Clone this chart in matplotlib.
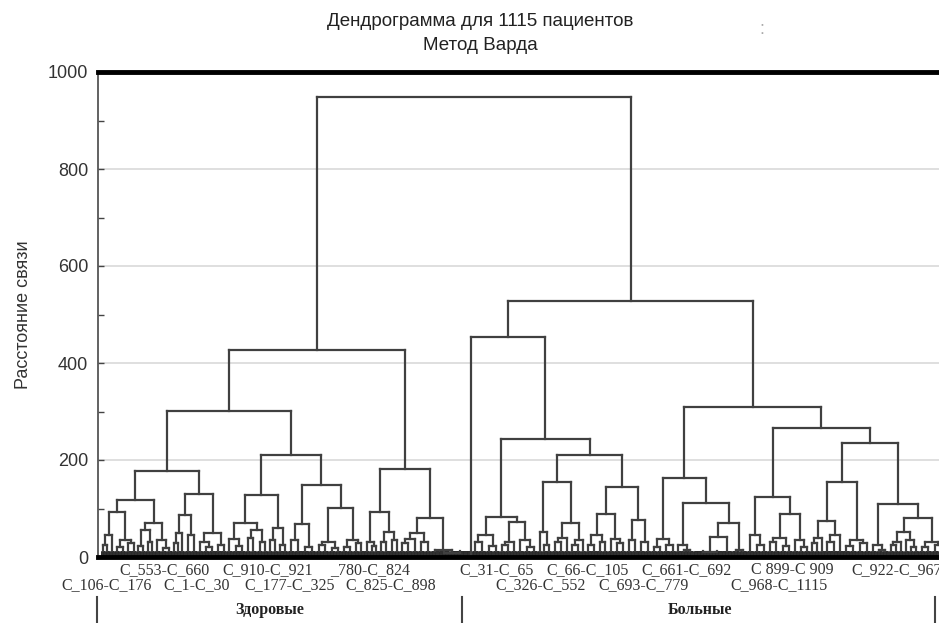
import matplotlib
matplotlib.use("Agg")
import matplotlib.pyplot as plt
from matplotlib.collections import LineCollection
from matplotlib.lines import Line2D
import numpy as np

# small groups of patients (left to right) inside each visible cluster,
# and the linkage distance between neighbouring small groups of that cluster
cluster_sizes = [
    [6, 6, 6], [7, 8, 7, 7], [6, 6, 6, 6], [8, 8, 8], [5, 5, 6], [8, 9],
    [7, 8, 8, 8, 7], [8, 9, 8], [7, 8, 8, 7], [6, 7, 7, 6], [9, 10, 9, 9],
    [8, 9, 9, 8], [8, 7, 8, 7], [7, 6, 7], [6, 7, 7, 6], [8, 9, 8, 9, 8],
    [11, 14, 28],
    [1], [9, 10, 9, 9], [7, 8, 8], [9, 9, 9], [6, 7, 6], [8, 8, 8], [7, 7, 7],
    [7, 8, 7, 7], [8, 8, 8], [8, 8, 9, 8], [8, 8, 9, 8], [7, 8, 8],
    [25, 13, 13], [10, 10], [9, 9, 9], [8, 8, 9, 8], [8, 7, 8], [6, 7, 6],
    [8, 9, 8], [9, 9, 9, 9], [8, 8, 8], [7, 6, 7], [7, 6, 7], [8, 9, 9, 8],
]
cluster_heights = [
    [25, 45], [20, 35, 28], [22, 56, 30], [35, 18], [28, 49], [45],
    [30, 20, 49, 25], [38, 22], [40, 56, 30], [35, 60, 25], [35, 68, 20],
    [25, 31, 18], [20, 35, 28], [31, 22], [30, 52, 35], [28, 38, 49, 30],
    [14, 8],
    [], [30, 45, 22], [25, 30], [35, 20], [52, 25], [30, 40], [25, 35],
    [25, 45, 30], [38, 28], [35, 76, 30], [20, 37, 25], [25, 15],
    [10, 41], [14], [45, 25], [30, 40, 22], [35, 20], [28, 40],
    [30, 45], [22, 35, 28], [24, 15], [25, 30], [35, 20], [20, 30, 25],
]
# linkage distance between neighbouring clusters
between_heights = [
    93, 117, 70, 177, 87, 130, 301, 70, 128, 210, 148, 101, 427, 93, 181, 80,
    948,
    454, 83, 72, 243, 155, 70, 210, 89, 144, 528, 163, 111, 70, 309, 124, 89,
    266, 74, 155, 235, 109, 52, 80,
]

range_labels_top = ["C_553-C_660", "C_910-C_921", "_780-C_824", "C_31-C_65",
                    "C_66-C_105", "C_661-C_692", "C 899-C 909", "C_922-C_967"]
range_labels_bottom = ["C_106-C_176", "C_1-C_30", "C_177-C_325", "C_825-C_898",
                       "C_326-C_552", "C_693-C_779", "C_968-C_1115"]
group_names = ["Здоровые", "Больные"]

# label layout (pixel centres)
top_label_x = [165, 268, 370, 497, 588, 686, 792, 897]
bottom_label_x = [107, 197, 290, 391, 541, 644, 779]
group_label_x = [270, 700]
separator_x = [97, 462, 935]

W, H = 939, 623
LINE = "#404040"
BUNDLE_H = 12

# flatten clusters into one row of small groups
sizes, gaps = [], []
for i, (sz, hs) in enumerate(zip(cluster_sizes, cluster_heights)):
    sizes += sz
    gaps += hs
    if i < len(between_heights):
        gaps.append(between_heights[i])
sizes = np.array(sizes)
gaps = np.array(gaps, dtype=float)
starts = np.concatenate([[0], np.cumsum(sizes)[:-1]])
n_leaves = sizes.sum()

segs = []
leaf_segs = []
centers, bases = [], []
for s, n in zip(starts, sizes):
    if n == 1:
        centers.append(float(s))
        bases.append(0.0)
        continue
    for j in range(s, s + n):
        leaf_segs.append([(j, 0), (j, BUNDLE_H)])
    leaf_segs.append([(s, BUNDLE_H), (s + n - 1, BUNDLE_H)])
    centers.append(s + (n - 1) / 2)
    bases.append(BUNDLE_H)


def build(lo, hi):
    # split the row at its largest linkage distance (dendrogram order)
    if lo == hi:
        return centers[lo], bases[lo]
    k = lo + int(np.argmax(gaps[lo:hi]))
    xl, hl = build(lo, k)
    xr, hr = build(k + 1, hi)
    h = gaps[k]
    segs.append([(xl, hl), (xl, h)])
    segs.append([(xl, h), (xr, h)])
    segs.append([(xr, h), (xr, hr)])
    return (xl + xr) / 2, h


build(0, len(sizes) - 1)

fig = plt.figure(figsize=(W / 100, H / 100), dpi=100)
ax_left, ax_right, ax_top, ax_bot = 98, 960, 72, 557
ax = fig.add_axes([ax_left / W, 1 - ax_bot / H, (ax_right - ax_left) / W,
                   (ax_bot - ax_top) / H])

px_per_leaf = (944 - 101) / (n_leaves - 1)
ax.set_xlim(-(101 - ax_left) / px_per_leaf,
            (n_leaves - 1) + (ax_right - 944) / px_per_leaf)
ax.set_ylim(0, 1000)

ax.add_collection(LineCollection(leaf_segs, colors="#2a2a2a", linewidths=0.7))
ax.add_collection(LineCollection(segs, colors=LINE, linewidths=1.6,
                                 capstyle="projecting"))

ax.set_yticks(range(0, 1001, 200))
ax.set_yticks(range(100, 1000, 200), minor=True)
ax.set_xticks([])
ax.tick_params(axis="y", which="both", direction="in", length=4, width=1,
               color="#444444", pad=7, labelsize=13, labelcolor="#333333")
for t in ax.get_yticklabels():
    t.set_family("Liberation Sans")
for y in range(200, 1000, 200):
    ax.axhline(y, color="#d9d9d9", lw=1.2, zorder=0)

ax.spines["right"].set_visible(False)
ax.spines["top"].set_linewidth(3.5)
ax.spines["top"].set_color("black")
ax.spines["bottom"].set_linewidth(3.5)
ax.spines["bottom"].set_color("black")
ax.spines["left"].set_linewidth(1.3)
ax.spines["left"].set_color("#555555")

ax.set_ylabel("Расстояние связи", family="Liberation Sans", fontsize=13,
              color="#333333")
ax.yaxis.set_label_coords(-(ax_left - 32) / (ax_right - ax_left), 0.5)


def ftext(x, y, s, **kw):
    fig.text(x / W, 1 - y / H, s, ha="center", va="center", **kw)


ftext(480, 21, "Дендрограмма для 1115 пациентов", family="Liberation Sans",
      fontsize=13.5, color="#222222")
ftext(480, 45, "Метод Варда", family="Liberation Sans", fontsize=13.5,
      color="#222222")
ftext(762, 29, ":", family="Liberation Sans", fontsize=13, color="#aaaaaa")

for s, x in zip(range_labels_top, top_label_x):
    ftext(x, 570, s, family="Liberation Serif", fontsize=11.5, color="#333333")
for s, x in zip(range_labels_bottom, bottom_label_x):
    ftext(x, 585, s, family="Liberation Serif", fontsize=11.5, color="#333333")
for s, x in zip(group_names, group_label_x):
    ftext(x, 610, s, family="Liberation Serif", fontsize=11.5,
          weight="bold", color="#222222")
for x in separator_x:
    fig.add_artist(Line2D([x / W, x / W], [1 - 597 / H, 1 - 622 / H],
                          color="#444444", lw=1.5))

fig.savefig("out.png", dpi=100)
